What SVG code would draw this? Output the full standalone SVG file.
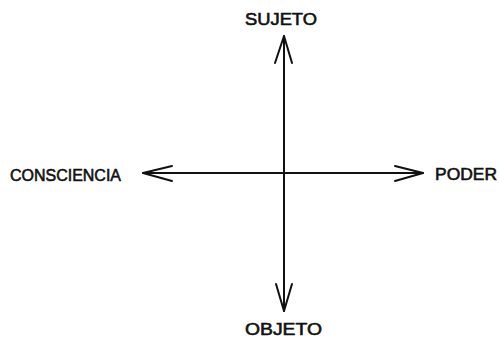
<svg xmlns="http://www.w3.org/2000/svg" width="499" height="338" viewBox="0 0 499 338">
<style>
.lbl{font-family:"Liberation Sans",Arial,sans-serif;font-size:17px;font-weight:normal;fill:#111;stroke:#111;stroke-width:0.6;}
.ax{stroke:#111;stroke-width:2;fill:none;stroke-linecap:round;stroke-linejoin:round;}
</style>
<rect width="499" height="338" fill="#fff"/>
<g id="connectors">
<line class="ax" x1="284" y1="36" x2="284" y2="311"/>
<line class="ax" x1="143" y1="173" x2="423" y2="173"/>
<polyline class="ax" points="275,63 284,36 292,63"/>
<polyline class="ax" points="276,284 284,311 292,284"/>
<polyline class="ax" points="172,166 143,173 172,181"/>
<polyline class="ax" points="395,166 423,173 395,181"/>
</g>
<g id="sujeto"><text class="lbl" x="245" y="25" textLength="72" lengthAdjust="spacingAndGlyphs">SUJETO</text></g>
<g id="objeto"><text class="lbl" x="245" y="335" textLength="77" lengthAdjust="spacingAndGlyphs">OBJETO</text></g>
<g id="consciencia"><text class="lbl" x="10" y="181" textLength="111" lengthAdjust="spacingAndGlyphs">CONSCIENCIA</text></g>
<g id="poder"><text class="lbl" x="435" y="180" textLength="62" lengthAdjust="spacingAndGlyphs">PODER</text></g>
</svg>
